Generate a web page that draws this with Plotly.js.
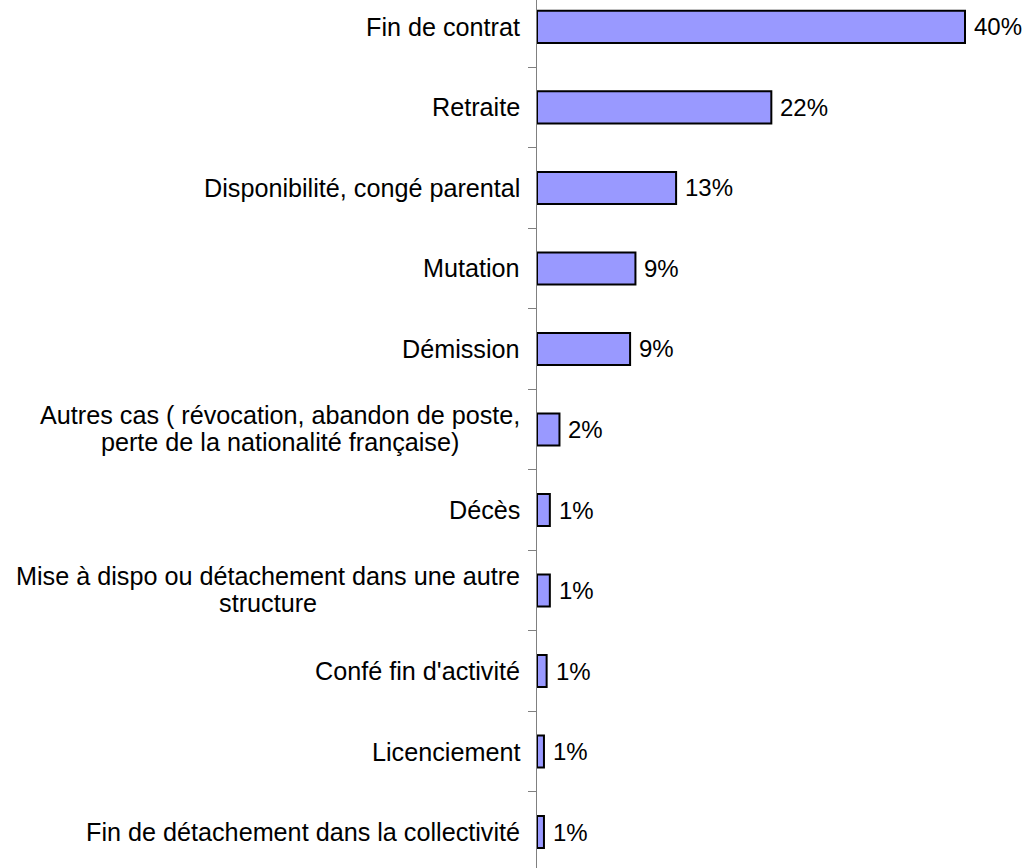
<!DOCTYPE html>
<html>
<head>
<meta charset="utf-8">
<script src="https://cdn.plot.ly/plotly-3.0.1.min.js"></script>
<style>html,body{margin:0;padding:0;background:#fff;}#chart{width:1028px;height:868px;}</style>
</head>
<body>
<div id="chart"></div>
<script>
var categories = [
  "Fin de contrat",
  "Retraite",
  "Disponibilité, congé parental",
  "Mutation",
  "Démission",
  "Autres cas ( révocation, abandon de poste,<br>perte de la nationalité française)",
  "Décès",
  "Mise à dispo ou détachement dans une autre<br>structure",
  "Confé fin d'activité",
  "Licenciement",
  "Fin de détachement dans la collectivité"
];
var values = [40.0, 21.9, 13.0, 9.2, 8.7, 2.1, 1.2, 1.2, 0.9, 0.65, 0.65];
var valueLabels = ["40%", "22%", "13%", "9%", "9%", "2%", "1%", "1%", "1%", "1%", "1%"];

var FONT = "Liberation Sans, Arial, sans-serif";
var trace = {
  type: "bar",
  orientation: "h",
  x: values,
  y: categories,
  width: 0.4,
  marker: {color: "#9999FF", line: {color: "#000000", width: 2}},
  hoverinfo: "none"
};

var annotations = [];
categories.forEach(function (c, i) {
  var multi = c.indexOf("<br>") >= 0;
  annotations.push({
    xref: "paper", yref: "y", x: 0, y: c,
    xanchor: "right", yanchor: "middle", xshift: -15, yshift: multi ? -2 : 0,
    text: c, showarrow: false, align: "center",
    font: {family: FONT, size: 25.2, color: "#000"}
  });
  annotations.push({
    xref: "x", yref: "y", x: values[i], y: c,
    xanchor: "left", yanchor: "middle", xshift: 7,
    text: valueLabels[i], showarrow: false,
    font: {family: FONT, size: 24, color: "#000"}
  });
});

var layout = {
  width: 1028, height: 868,
  margin: {l: 537, r: 8, t: 0, b: 0, pad: 0},
  paper_bgcolor: "#fff", plot_bgcolor: "#fff",
  showlegend: false,
  xaxis: {range: [0, 45.14], visible: false, showgrid: false, zeroline: false, fixedrange: true},
  yaxis: {
    type: "category",
    categoryorder: "array", categoryarray: categories,
    range: [10.447, -0.335],
    showticklabels: false,
    showline: true, linecolor: "#808080", linewidth: 1.5,
    ticks: "outside", tickson: "boundaries", ticklen: 8, tickcolor: "#808080", tickwidth: 1,
    showgrid: false, zeroline: false, fixedrange: true
  },
  annotations: annotations
};

Plotly.newPlot("chart", [trace], layout, {displayModeBar: false, staticPlot: true}).then(function (gd) {
  // tighten the line spacing of multi-line category labels
  gd.querySelectorAll(".annotation-text tspan.line").forEach(function (t) {
    var dy = t.getAttribute("dy");
    if (dy && parseFloat(dy) > 0) t.setAttribute("dy", "1.08em");
  });
});
</script>
</body>
</html>
